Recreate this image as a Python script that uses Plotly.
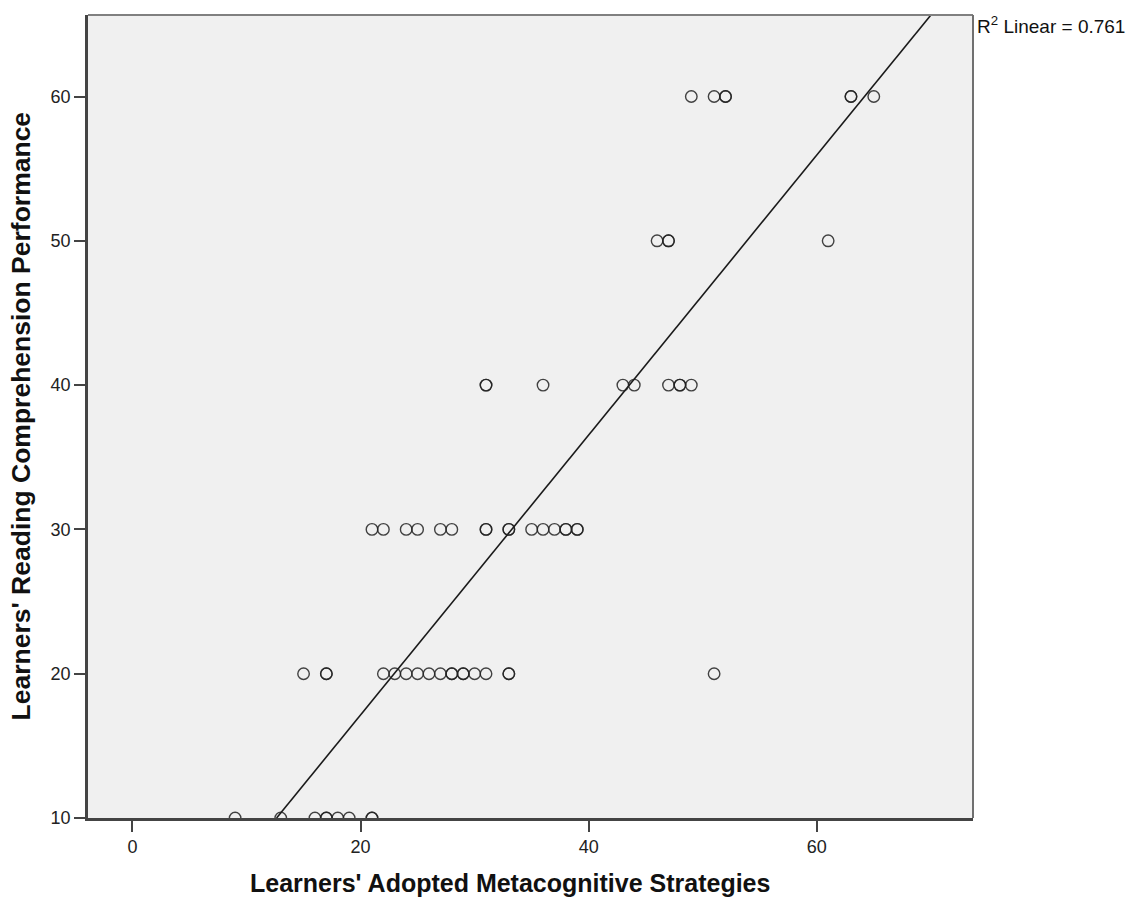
import numpy as np
import plotly.graph_objects as go

# Data (x = metacognitive strategies, y = reading performance)
x_10 = [9, 13, 16, 17, 17, 18, 19, 21, 21]
x_20 = [15, 17, 17, 22, 23, 24, 25, 26, 27, 28, 28, 29, 29, 30, 31, 33, 33, 51]
x_30 = [21, 22, 24, 25, 27, 28, 31, 31, 33, 33, 35, 36, 37, 38, 38, 39, 39]
x_40 = [31, 31, 36, 43, 44, 47, 48, 48, 49]
x_50 = [46, 47, 47, 61]
x_60 = [49, 51, 52, 52, 63, 63, 65]

strategies = x_10 + x_20 + x_30 + x_40 + x_50 + x_60
performance = ([10] * len(x_10) + [20] * len(x_20) + [30] * len(x_30)
               + [40] * len(x_40) + [50] * len(x_50) + [60] * len(x_60))

x_ticks = [0, 20, 40, 60]
y_ticks = [10, 20, 30, 40, 50, 60]
x_range = [-3.9, 73.7]
y_range = [10, 65.65]
r2_text = "R<sup>2</sup> Linear = 0.761"
x_title = "<b>Learners' Adopted Metacognitive Strategies</b>"
y_title = "<b>Learners' Reading Comprehension Performance</b>"

slope, intercept = np.polyfit(strategies, performance, 1)
line_x = np.array([(y_range[0] - intercept) / slope, (y_range[1] - intercept) / slope])
line_y = slope * line_x + intercept

fig = go.Figure()
fig.add_trace(go.Scatter(
    x=line_x, y=line_y, mode="lines",
    line=dict(color="#1a1a1a", width=1.6), hoverinfo="skip", showlegend=False))
fig.add_trace(go.Scatter(
    x=strategies, y=performance, mode="markers",
    marker=dict(symbol="circle-open", size=11.5, color="#222222",
                line=dict(width=1.4, color="#222222"), opacity=0.85),
    showlegend=False))

fam = "Arial, Liberation Sans, sans-serif"
axis_font = dict(family=fam, size=18, color="#222222")

fig.update_layout(
    width=1132, height=899,
    margin=dict(l=88, r=159, t=15, b=81),
    paper_bgcolor="white", plot_bgcolor="#F0F0F0",
    font=axis_font,
    xaxis=dict(range=x_range, tickvals=x_ticks, showgrid=False, zeroline=False,
               ticks="outside", ticklen=11, tickwidth=2, tickcolor="#444444",
               showline=True, linewidth=2.5, linecolor="#444444", mirror=False,
               tickfont=axis_font),
    yaxis=dict(range=y_range, tickvals=y_ticks, showgrid=False, zeroline=False,
               ticks="outside", ticklen=11, tickwidth=2, tickcolor="#444444",
               showline=True, linewidth=2.5, linecolor="#444444", mirror=False,
               tickfont=axis_font),
    shapes=[
        dict(type="line", xref="paper", yref="paper", x0=0, x1=1, y0=1, y1=1,
             line=dict(color="#808080", width=2)),
        dict(type="line", xref="paper", yref="paper", x0=1, x1=1, y0=0, y1=1,
             line=dict(color="#707070", width=2)),
    ],
    annotations=[
        dict(text=r2_text, xref="paper", yref="paper", x=1, y=0.9875, xshift=2,
             xanchor="left", yanchor="middle", showarrow=False,
             font=dict(family=fam, size=19, color="#111111")),
        dict(text=x_title, xref="paper", yref="paper", x=0.4768, y=0, yshift=-65,
             xanchor="center", yanchor="middle", showarrow=False,
             font=dict(family=fam, size=25, color="#111111")),
        dict(text=y_title, xref="paper", yref="paper", x=0, y=0.5, xshift=-68,
             xanchor="center", yanchor="middle", textangle=-90, showarrow=False,
             font=dict(family=fam, size=26.5, color="#111111")),
    ],
)

fig.write_html("out.html", config={"displayModeBar": False},
               post_script="document.body.style.margin='0px';")
